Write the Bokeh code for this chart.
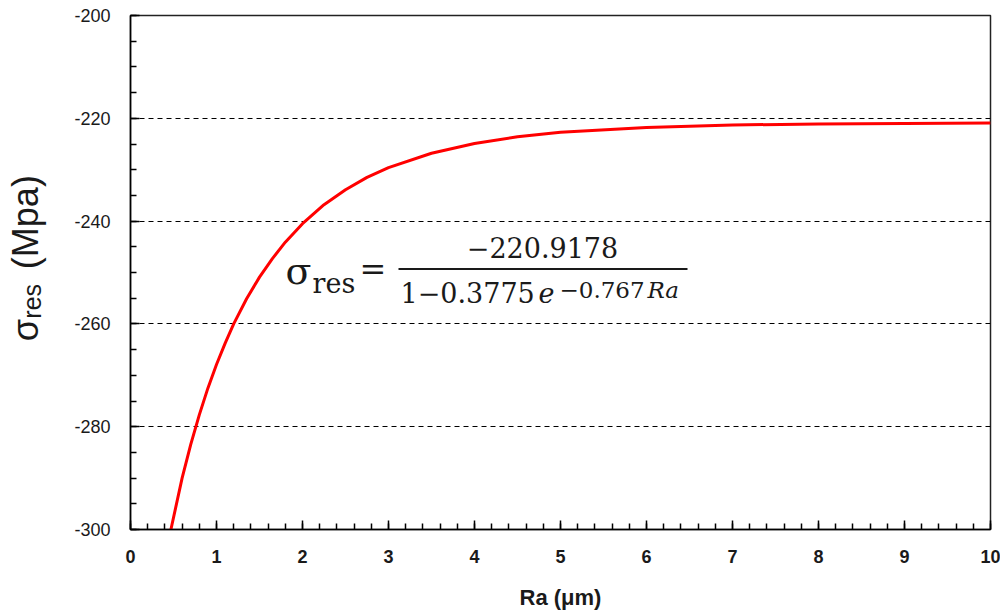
import math
from bokeh.plotting import figure
from bokeh.layouts import row
from bokeh.models import Range1d, FixedTicker, Label, BoxAnnotation
from bokeh.core.properties import value
from bokeh.embed import file_html
from bokeh.resources import INLINE

# ---- data ----
ra = [0.47, 0.6, 0.7, 0.8, 0.9, 1.0, 1.1, 1.2, 1.35, 1.5, 1.65, 1.8, 2.0, 2.25, 2.5,
      2.75, 3.0, 3.5, 4.0, 4.5, 5.0, 6.0, 7.0, 8.0, 9.0, 10.0]
sigma = [-300.0, -290.0, -283.5, -277.7, -272.5, -267.9, -263.8, -260.0, -255.1, -250.9,
         -247.3, -244.1, -240.5, -236.8, -233.9, -231.5, -229.6, -226.8, -224.9, -223.6,
         -222.7, -221.8, -221.3, -221.1, -221.0, -220.9]

x_ticks = [0, 1, 2, 3, 4, 5, 6, 7, 8, 9, 10]
x_minor = [i * 0.2 for i in range(51)]
y_ticks = [-300, -280, -260, -240, -220, -200]
y_tick_labels = ["-300", "-280", "-260", "-240", "-220", "-200"]
y_minor = list(range(-300, -199, 5))
grid_levels = [-280, -260, -240, -220]

x_label = "Ra (μm)"
y_label_parts = ["σ", "res", "(Mpa)"]
formula_num = "−220.9178"
formula_den = "1−0.3775"
formula_exp = "−0.767"

X0, X1, Y0, Y1 = 0, 10, -300, -200

# ---- left strip holding the rotated y-axis title ----
LW, H = 60, 612
pl = figure(width=LW, height=H, x_range=Range1d(0, LW), y_range=Range1d(H, 0),
            x_axis_type=None, y_axis_type=None, output_backend="svg",
            toolbar_location=None, min_border=0)
pl.outline_line_color = None
pl.grid.visible = False
pl.background_fill_color = "white"
pl.border_fill_color = "white"
ang = math.pi / 2
def ylab(text, px, py, size):
    pl.text(x=[px], y=[py], text=[text], angle=ang,
            text_font=value("Liberation Sans"), text_font_size=f"{size}px",
            text_baseline="alphabetic", text_align="left", text_color="#1a1a1a")
ylab(y_label_parts[0], 25, 388, 36)
ylab(y_label_parts[1], 31, 361, 25)
ylab(y_label_parts[2], 25, 302, 36)

# ---- main plot ----
p = figure(width=940, height=H, x_range=Range1d(X0, X1), y_range=Range1d(Y0, Y1),
           output_backend="svg", toolbar_location=None,
           min_border_left=130 - LW, min_border_right=10, min_border_top=15,
           min_border_bottom=H - 530)
p.background_fill_color = "white"
p.border_fill_color = "white"
p.outline_line_color = "#222222"
p.outline_line_width = 1.5
p.xgrid.visible = False

p.xaxis.ticker = FixedTicker(ticks=x_ticks, minor_ticks=x_minor)
p.yaxis.ticker = FixedTicker(ticks=y_ticks, minor_ticks=y_minor)
p.yaxis.major_label_overrides = {t: l for t, l in zip(y_ticks, y_tick_labels)}
for ax in (p.xaxis[0], p.yaxis[0]):
    ax.axis_line_color = "black"
    ax.axis_line_width = 1.5
    ax.major_tick_in = 9
    ax.major_tick_out = 0
    ax.minor_tick_in = 6
    ax.minor_tick_out = 0
    ax.major_tick_line_color = "black"
    ax.minor_tick_line_color = "black"
    ax.major_tick_line_width = 1.5
    ax.minor_tick_line_width = 1.5
    ax.major_label_text_font = "Liberation Sans"
    ax.major_label_text_color = "#1a1a1a"
    ax.major_label_text_font_size = "18px"

p.xaxis.major_label_text_font_style = "bold"
p.xaxis.major_label_standoff = 20
p.xaxis.axis_label = x_label
p.xaxis.axis_label_text_font = "Liberation Sans"
p.xaxis.axis_label_text_font_style = "bold"
p.xaxis.axis_label_text_font_size = "22px"
p.xaxis.axis_label_text_color = "#1a1a1a"
p.xaxis.axis_label_standoff = 19
p.yaxis.major_label_standoff = 20

p.ygrid.ticker = FixedTicker(ticks=grid_levels)
p.ygrid.grid_line_color = "black"
p.ygrid.grid_line_width = 1
p.ygrid.grid_line_dash = "5 4"

p.line(ra, sigma, line_color="red", line_width=3)

# ---- formula placement (page pixel -> data) ----
FX0, FX1, FY0, FY1 = 130, 990, 15, 530
def dx(px):
    return X0 + (px - FX0) / (FX1 - FX0) * (X1 - X0)
def dy(py):
    return Y1 - (py - FY0) / (FY1 - FY0) * (Y1 - Y0)

SERIF = "DejaVu Serif"
def lab(text, px, py, size, style="normal", align="left"):
    p.add_layout(Label(x=dx(px), y=dy(py), text=text, text_font=SERIF,
                       text_font_size=f"{size}px", text_font_style=style,
                       text_align=align, text_baseline="alphabetic",
                       text_color="#1a1a1a"))

lab("σ", 285, 271, 38)
lab("res", 312, 284, 27)
lab("=", 359, 269, 32)
lab(formula_num, 542, 247, 27, align="center")
p.add_layout(BoxAnnotation(left=dx(398), right=dx(687), top=dy(268), bottom=dy(270),
                           fill_color="#1a1a1a", fill_alpha=1.0, line_color=None))
lab(formula_den, 400, 293, 27)
lab("e", 538, 293, 27, style="italic")
lab(formula_exp, 559, 290, 23)
lab("Ra", 647, 290, 23, style="italic")

open("out.html", "w").write(file_html(row(pl, p), INLINE))
